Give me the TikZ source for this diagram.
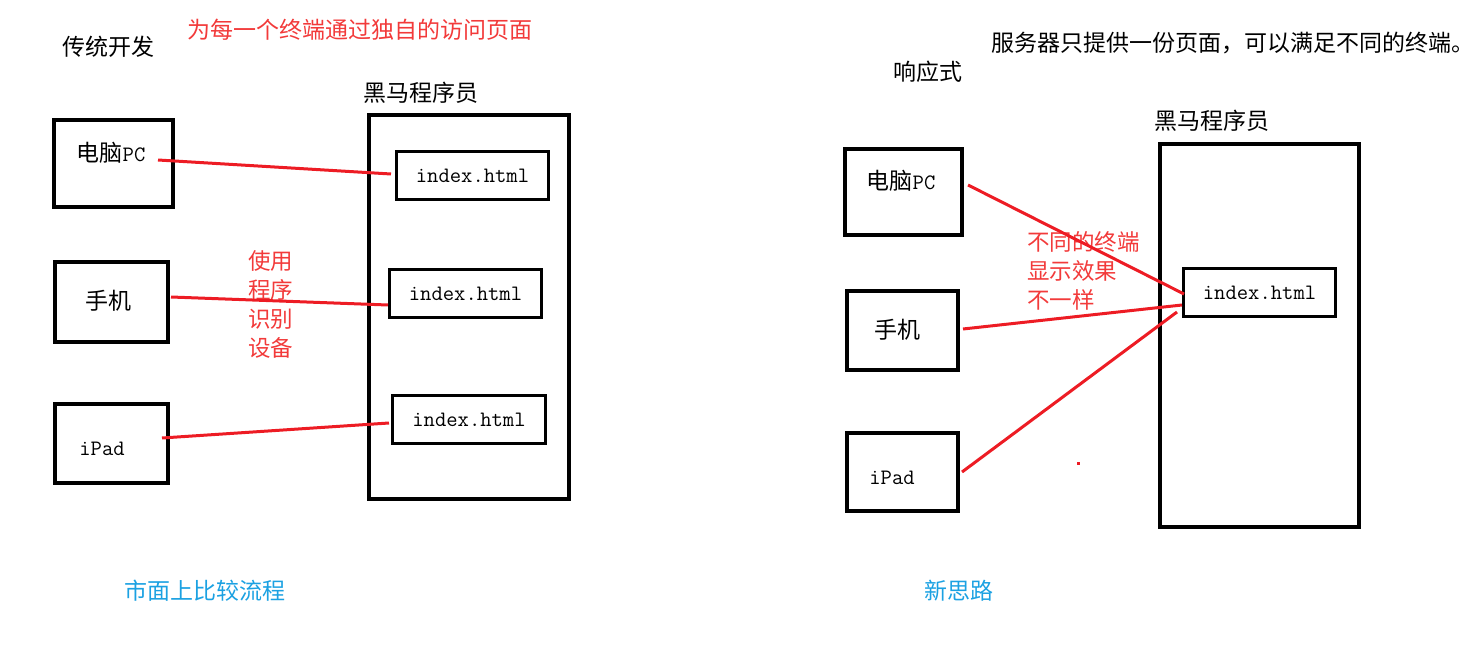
\documentclass[tikz,border=0pt]{standalone}
\usepackage{fontspec}
\setmainfont{Liberation Serif}
\newfontfamily\cjk{Noto Sans CJK SC}
\definecolor{lred}{HTML}{ED1C24}
\definecolor{tred}{HTML}{F23A3A}
\definecolor{tblue}{HTML}{1BA1E2}
\begin{document}
\begin{tikzpicture}[x=1pt,y=-1pt,
  devbox/.style={draw=black, line width=4pt, inner sep=0pt},
  srvbox/.style={draw=black, line width=4pt, inner sep=0pt},
  idxbox/.style={draw=black, line width=3pt, inner sep=0pt, minimum width=152pt, minimum height=48pt,
    font=\ttfamily\fontsize{22}{24}\selectfont},
  lbl/.style={inner sep=0pt, font=\cjk\fontsize{23}{26}\selectfont},
  latin/.style={inner sep=0pt, font=\ttfamily\fontsize{22}{26}\selectfont},
  redtxt/.style={lbl, text=tred, align=left, font=\cjk\fontsize{22.5}{29}\selectfont},
  bluetxt/.style={lbl, text=tblue},
  conn/.style={draw=lred, line width=3pt}]
\useasboundingbox (0,0) rectangle (1481,655);
% ---------- left ----------
\node[lbl] (t1) at (108,47) {传统开发};
\node[lbl, text=tred] (t2) at (360,30) {为每一个终端通过独自的访问页面};
\node[lbl] (s1lab) at (421,93) {黑马程序员};
\node[srvbox, minimum width=200pt, minimum height=384pt] (srv1) at (469,307) {};
\node[devbox, minimum width=119pt, minimum height=87pt] (pc1) at (113.5,163.5) {};
\node[devbox, minimum width=113pt, minimum height=80pt] (ph1) at (111.5,302) {};
\node[devbox, minimum width=113pt, minimum height=79pt] (ip1) at (111.5,443.5) {};
\node[lbl] (pc1t) at (111,153) {电脑\ttfamily\fontsize{22}{26}\selectfont PC};
\node[lbl] (ph1t) at (108,301) {手机};
\node[latin] (ip1t) at (102,449) {iPad};
\node[idxbox] (x1) at (472.5,175.5) {index.html};
\node[idxbox] (x2) at (465.5,293.5) {index.html};
\node[idxbox, minimum width=153pt] (x3) at (469,419.5) {index.html};
\node[redtxt, anchor=north west] (r1) at (248,250) {使用\\程序\\识别\\设备};
\node[bluetxt] (b1) at (205,591) {市面上比较流程};
\coordinate (a1) at (158,160);
\coordinate (a2) at (171,297);
\coordinate (a3) at (162,438);
\coordinate (e1) at (391,174);
\coordinate (e2) at (388,305);
\coordinate (e3) at (389,423);
\draw[conn] (a1) -- (e1);
\draw[conn] (a2) -- (e2);
\draw[conn] (a3) -- (e3);
% ---------- right ----------
\node[lbl] (t3) at (1233,43) {服务器只提供一份页面，可以满足不同的终端。};
\node[lbl] (t4) at (928,72) {响应式};
\node[lbl] (s2lab) at (1212,121) {黑马程序员};
\node[srvbox, minimum width=199pt, minimum height=383pt] (srv2) at (1259.5,335.5) {};
\node[devbox, minimum width=117pt, minimum height=86pt] (pc2) at (903.5,192) {};
\node[devbox, minimum width=111pt, minimum height=79pt] (ph2) at (902.5,330.5) {};
\node[devbox, minimum width=111pt, minimum height=78pt] (ip2) at (902.5,472) {};
\node[lbl] (pc2t) at (901,181) {电脑\ttfamily\fontsize{22}{26}\selectfont PC};
\node[lbl] (ph2t) at (897,330) {手机};
\node[latin] (ip2t) at (892,478) {iPad};
\node[idxbox] (x4) at (1259.5,292.5) {index.html};
\node[redtxt, anchor=north west] (r2) at (1027,231) {不同的终端\\显示效果\\不一样};
\node[bluetxt] (b2) at (959,591) {新思路};
\coordinate (c1) at (968,185);
\coordinate (c2) at (963,329);
\coordinate (c3) at (962,472);
\coordinate (f1) at (1184,294);
\coordinate (f2) at (1182,305);
\coordinate (f3) at (1177,312);
\draw[conn] (c1) -- (f1);
\draw[conn] (c2) -- (f2);
\draw[conn] (c3) -- (f3);
\fill[lred] (1076.5,461.5) rectangle (1079.5,464.5);
\end{tikzpicture}
\end{document}
